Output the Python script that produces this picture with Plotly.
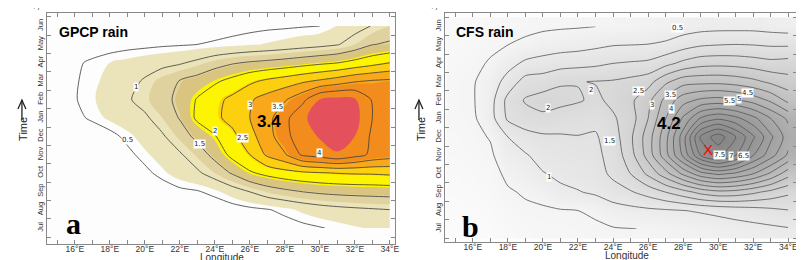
import plotly.graph_objects as go

# ---------------- data ----------------
lon = list(range(15, 35))                      # longitude grid (deg E)
month_idx = list(range(12))                    # 0 = Jul ... 11 = Jun
month_names = ["Jul", "Aug", "Sep", "Oct", "Nov", "Dec",
               "Jan", "Feb", "Mar", "Apr", "May", "Jun"]
lon_ticks = list(range(16, 35, 2))
lon_tick_text = [f"{v}°E" for v in lon_ticks]
lon_minor = list(range(15, 35, 2))

# GPCP rain (rows = months Jul..Jun, cols = lon 15..34)
gpcp_rain = [
    [0, 0, 0, 0.01, 0.02, 0.03, 0.05, 0.07, 0.09, 0.12, 0.15, 0.2, 0.27, 0.35, 0.42, 0.48, 0.55, 0.62, 0.68, 0.72],
    [0, 0, 0.01, 0.03, 0.05, 0.08, 0.12, 0.17, 0.22, 0.28, 0.35, 0.42, 0.48, 0.58, 0.7, 0.8, 0.87, 0.92, 0.96, 1.0],
    [0.01, 0.02, 0.05, 0.1, 0.15, 0.22, 0.32, 0.43, 0.48, 0.6, 0.8, 1.02, 1.25, 1.4, 1.52, 1.6, 1.65, 1.68, 1.7, 1.72],
    [0.03, 0.05, 0.12, 0.2, 0.3, 0.42, 0.6, 0.78, 0.93, 1.2, 1.55, 1.93, 2.15, 2.3, 2.4, 2.47, 2.52, 2.55, 2.56, 2.6],
    [0.06, 0.1, 0.2, 0.3, 0.42, 0.6, 0.78, 0.95, 1.25, 1.65, 2.15, 2.5, 3.1, 3.45, 4.08, 4.25, 4.45, 4.2, 3.9, 3.75],
    [0.15, 0.2, 0.3, 0.4, 0.58, 0.77, 0.95, 1.27, 1.63, 1.97, 2.35, 2.85, 3.27, 3.87, 4.25, 4.55, 4.75, 4.5, 3.9, 3.8],
    [0.32, 0.42, 0.55, 0.7, 0.82, 0.93, 1.2, 1.53, 2.1, 2.38, 2.68, 3.0, 3.33, 3.85, 4.4, 4.75, 4.9, 4.7, 4.0, 3.85],
    [0.38, 0.48, 0.62, 0.78, 0.95, 1.15, 1.35, 1.62, 2.04, 2.35, 2.62, 2.94, 3.2, 3.45, 3.85, 4.5, 4.65, 4.55, 3.95, 3.8],
    [0.37, 0.47, 0.6, 0.72, 0.85, 1.05, 1.3, 1.52, 1.7, 1.92, 2.15, 2.4, 2.6, 2.75, 2.92, 3.08, 3.25, 3.45, 3.55, 3.6],
    [0.36, 0.45, 0.55, 0.65, 0.72, 0.8, 0.87, 0.95, 1.1, 1.3, 1.45, 1.55, 1.62, 1.7, 1.8, 1.9, 1.99, 2.15, 2.32, 2.5],
    [0.25, 0.3, 0.33, 0.36, 0.4, 0.42, 0.45, 0.47, 0.5, 0.53, 0.57, 0.62, 0.67, 0.73, 0.8, 0.87, 0.97, 1.2, 1.48, 1.57],
    [0.2, 0.25, 0.26, 0.28, 0.3, 0.31, 0.33, 0.35, 0.37, 0.39, 0.41, 0.43, 0.45, 0.46, 0.48, 0.5, 0.66, 0.84, 1.02, 1.2],
]

# CFS rain (rows = months Jul..Jun, cols = lon 15..34)
cfs_rain = [
    [0.0, 0.05, 0.08, 0.2, 0.3, 0.35, 0.35, 0.38, 0.42, 0.47, 0.49, 0.52, 0.56, 0.62, 0.68, 0.74, 0.8, 0.85, 0.9, 0.96],
    [0.05, 0.1, 0.16, 0.3, 0.42, 0.44, 0.47, 0.5, 0.58, 0.76, 0.85, 0.9, 0.94, 0.99, 1.05, 1.12, 1.2, 1.28, 1.38, 1.48],
    [0.12, 0.18, 0.25, 0.45, 0.55, 0.65, 0.9, 0.97, 1.08, 1.3, 1.45, 1.7, 2.0, 2.3, 2.65, 2.85, 2.8, 2.6, 2.35, 2.1],
    [0.18, 0.25, 0.33, 0.6, 0.8, 0.97, 1.1, 1.2, 1.3, 1.6, 2.0, 2.6, 3.3, 4.1, 4.8, 5.1, 4.9, 4.5, 3.9, 3.2],
    [0.25, 0.32, 0.42, 0.82, 0.95, 1.2, 1.3, 1.35, 1.4, 1.65, 2.3, 3.2, 4.3, 5.6, 7.0, 7.6, 7.0, 6.0, 5.2, 4.4],
    [0.3, 0.38, 0.53, 1.0, 1.3, 1.42, 1.45, 1.48, 1.45, 1.75, 2.41, 3.25, 4.33, 5.76, 7.6, 8.3, 7.5, 6.58, 5.6, 4.75],
    [0.35, 0.42, 0.8, 1.58, 1.8, 1.88, 1.75, 1.7, 1.62, 1.93, 2.27, 3.0, 3.99, 5.09, 6.07, 6.43, 6.16, 5.66, 5.0, 4.4],
    [0.38, 0.46, 0.8, 1.65, 2.05, 2.2, 2.15, 2.05, 1.9, 2.12, 2.4, 2.85, 3.65, 4.3, 4.6, 4.69, 4.56, 4.29, 3.9, 3.35],
    [0.36, 0.46, 0.72, 1.2, 1.7, 1.75, 1.95, 1.98, 2.02, 2.05, 2.15, 2.3, 2.9, 3.3, 3.35, 3.36, 3.28, 3.13, 2.9, 2.7],
    [0.3, 0.38, 0.55, 0.82, 1.1, 1.2, 1.3, 1.35, 1.4, 1.5, 1.55, 1.6, 1.85, 2.13, 2.32, 2.36, 2.33, 2.25, 2.15, 2.2],
    [0.22, 0.28, 0.4, 0.5, 0.6, 0.72, 0.78, 0.82, 0.9, 0.98, 1.0, 1.02, 1.1, 1.3, 1.45, 1.5, 1.52, 1.5, 1.45, 1.45],
    [0.15, 0.2, 0.28, 0.35, 0.38, 0.42, 0.45, 0.47, 0.5, 0.52, 0.55, 0.6, 0.65, 0.75, 0.82, 0.85, 0.85, 0.85, 0.8, 0.75],
]

gpcp_fill_levels = [0.65, 1.2, 1.55, 1.9, 2.45, 3.0, 3.6, 4.5]
gpcp_fill_colors = ["#ebe3b9", "#e0d29e", "#d9c480", "#fdf500", "#fcd00f",
                    "#f8a81a", "#f28c1c", "#e4505c"]

gpcp_labels = [("0.5", 19.0, 4.8), ("1", 19.5, 7.7), ("1.5", 23.1, 4.6),
               ("2", 24.0, 5.3), ("2.5", 25.6, 4.9), ("3", 26.0, 6.7),
               ("3.5", 27.6, 6.6), ("4", 30.0, 4.1)]
cfs_labels = [("0.5", 27.7, 10.92), ("2", 22.76, 7.55), ("2", 20.26, 6.58),
              ("2.5", 25.43, 7.5), ("3", 26.23, 6.74), ("3.5", 27.25, 7.28),
              ("4", 27.31, 6.52), ("4.5", 31.68, 7.39), ("5", 31.17, 7.07),
              ("5.5", 30.66, 6.96), ("1.5", 23.78, 4.78), ("1", 20.32, 2.83),
              ("7.5", 30.1, 4.0), ("7", 30.75, 3.98), ("6.5", 31.45, 3.97)]

# ---------------- figure ----------------
W, H = 804, 260


def fx(p):
    return p / W


def fy(p):
    return (H - p) / H


fig = go.Figure()

for lev, col in zip(gpcp_fill_levels, gpcp_fill_colors):
    fig.add_trace(go.Contour(
        x=lon, y=month_idx, z=gpcp_rain, autocontour=False,
        contours=dict(start=lev, end=lev, size=1, coloring="fill", showlines=False),
        colorscale=[[0, "rgba(255,255,255,0)"], [1, col]], showscale=False,
        line=dict(width=0), hoverinfo="skip", xaxis="x", yaxis="y"))

fig.add_trace(go.Contour(
    x=lon, y=month_idx, z=gpcp_rain, autocontour=False,
    contours=dict(start=0.5, end=4.0, size=0.5, coloring="none", showlabels=False),
    line=dict(color="#3a3a3a", width=0.8, smoothing=0.7), showscale=False,
    hoverinfo="skip", xaxis="x", yaxis="y"))

gray_scale = [[0, "#fbfbfb"], [0.06, "#f4f4f4"], [0.12, "#eaeaea"], [0.24, "#dadada"],
              [0.36, "#c9c9c9"], [0.48, "#b8b8b8"], [0.6, "#a9a9a9"], [0.72, "#9c9c9c"],
              [0.85, "#909090"], [1, "#848484"]]
fig.add_trace(go.Heatmap(
    x=lon, y=month_idx, z=cfs_rain, zsmooth="best", colorscale=gray_scale,
    zmin=0, zmax=8.3, showscale=False, hoverinfo="skip", xaxis="x2", yaxis="y2"))
fig.add_trace(go.Contour(
    x=lon, y=month_idx, z=cfs_rain, autocontour=False,
    contours=dict(start=0.5, end=8.0, size=0.5, coloring="none", showlabels=False),
    line=dict(color="#555555", width=0.8, smoothing=0.7), showscale=False,
    hoverinfo="skip", xaxis="x2", yaxis="y2"))

axis_font = dict(family="Liberation Sans, Arial, sans-serif", size=8.5, color="#333333")


def xaxis(domain, rng, anchor):
    return dict(domain=domain, range=rng, anchor=anchor, tickmode="array",
                tickvals=lon_ticks, ticktext=lon_tick_text, ticks="inside",
                ticklen=4, tickcolor="#888888", tickwidth=1, ticklabelstandoff=-3,
                minor=dict(tickvals=lon_minor, ticks="inside", ticklen=4,
                           tickcolor="#888888", tickwidth=1),
                showline=True, linecolor="#888888", linewidth=1, mirror="ticks",
                showgrid=False, zeroline=False, tickfont=axis_font)


def yaxis(domain, rng, anchor):
    return dict(domain=domain, range=rng, anchor=anchor, tickmode="array",
                tickvals=month_idx, ticktext=month_names, ticks="", tickangle=-90,
                minor=dict(tickvals=[i - 0.5 for i in range(13)], ticks="inside",
                           ticklen=4, tickcolor="#888888", tickwidth=1),
                showline=True, linecolor="#888888", linewidth=1, mirror="ticks",
                showgrid=False, zeroline=False,
                tickfont=dict(family="Liberation Sans, Arial, sans-serif", size=7.5,
                              color="#333333"))


def note(x, y, text, font, angle=0, xanchor="center"):
    return dict(x=x, y=y, xref="paper", yref="paper", text=text, showarrow=False,
                xanchor=xanchor, yanchor="middle", textangle=angle, font=font)


annotations = []
lab_font = dict(family="DejaVu Sans", size=7, color="#222")
for txt, x, y in gpcp_labels:
    annotations.append(dict(x=x, y=y, xref="x", yref="y", text=txt, showarrow=False,
                            xanchor="center", yanchor="middle",
                            bgcolor="white", borderpad=0, font=lab_font))
for txt, x, y in cfs_labels:
    annotations.append(dict(x=x, y=y, xref="x2", yref="y2", text=txt, showarrow=False,
                            xanchor="center", yanchor="middle",
                            bgcolor="white", borderpad=0, font=lab_font))

title_font = dict(family="Liberation Sans, Arial, sans-serif", size=14, color="black")
serif_big = dict(family="Liberation Serif, Times New Roman, serif", size=30, color="black")
narrow_big = dict(family="Liberation Sans Narrow, Arial Narrow, Liberation Sans", size=17,
                  color="black")
sans10 = dict(family="Liberation Sans, Arial, sans-serif", size=10, color="#333333")
time_font = dict(family="Liberation Sans, Arial, sans-serif", size=11, color="#222")
tick_font = dict(family="Liberation Sans, Arial, sans-serif", size=7.5, color="#333333")

annotations += [
    note(fx(49), fy(24), "<b>GPCP rain</b>", title_font, xanchor="left"),
    note(fx(448), fy(24), "<b>CFS rain</b>", title_font, xanchor="left"),
    note(fx(65.5), fy(215), "<b>a</b>", serif_big),
    note(fx(464.5), fy(218), "<b>b</b>", serif_big),
    note(fx(262.5), fy(113.5), "<b>3.4</b>", narrow_big),
    note(fx(664.5), fy(115.5), "<b>4.2</b>", narrow_big),
    note(fx(704), fy(141.5), "X",
         dict(family="Liberation Sans Narrow, Arial Narrow, Liberation Sans", size=15,
              color="#ff0000")),
    note(fx(215), fy(249), "Longitude", sans10),
    note(fx(622), fy(248), "Longitude", sans10),
    note(fx(15), fy(121), "Time", time_font, angle=-90),
    note(fx(415), fy(121), "Time", time_font, angle=-90),
    note(fx(29), fy(-2.5), "Jul", tick_font, angle=-90),
    note(fx(429), fy(-2.5), "Jul", tick_font, angle=-90),
]

shapes = []
for x0 in (14, 413):
    shapes.append(dict(type="line", xref="paper", yref="paper",
                       x0=fx(x0), y0=fy(112), x1=fx(x0), y1=fy(92),
                       line=dict(color="#222", width=1.3)))
    shapes.append(dict(type="path", xref="paper", yref="paper",
                       path=f"M {fx(x0 - 4)} {fy(101)} L {fx(x0)} {fy(92)} L {fx(x0 + 4)} {fy(101)}",
                       line=dict(color="#222", width=1.3)))

fig.update_layout(
    width=W, height=H, margin=dict(l=0, r=0, t=0, b=0),
    paper_bgcolor="white", plot_bgcolor="#fdfdfd", showlegend=False,
    xaxis=xaxis([fx(39), fx(389)], [14.4, 34.3], "y"),
    yaxis=yaxis([fy(236), fy(5)], [-0.87, 11.71], "x"),
    xaxis2=xaxis([fx(439), fx(793)], [14.4, 34.5], "y2"),
    yaxis2=yaxis([fy(234), fy(5)], [-0.71, 11.74], "x2"),
    annotations=annotations, shapes=shapes,
)

fig.write_html("out.html")
